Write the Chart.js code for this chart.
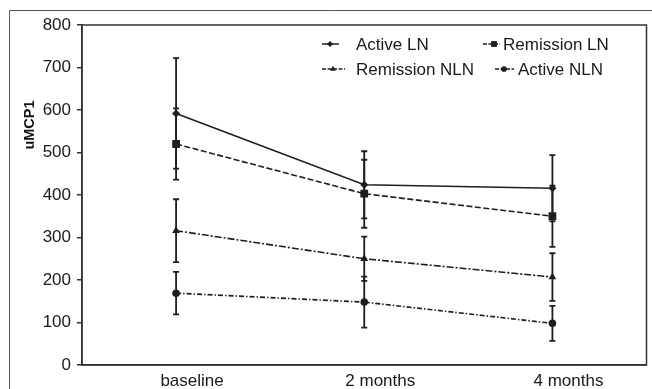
<!DOCTYPE html>
<html>
<head>
<meta charset="utf-8">
<script src="https://cdn.jsdelivr.net/npm/chart.js@4.4.1/dist/chart.umd.min.js"></script>
<style>
  html, body { margin: 0; padding: 0; background: #fff; }
  #wrap { width: 652px; height: 389px; position: relative; }
</style>
</head>
<body>
<div id="wrap"><canvas id="c" width="652" height="389"></canvas></div>
<script>
const categories = ['baseline', '2 months', '4 months'];
const yTicks = [0, 100, 200, 300, 400, 500, 600, 700, 800];
const yTitle = 'uMCP1';

const activeLN = [592, 424, 416];
const activeLNErr = [130, 79, 78];
const remissionLN = [520, 403, 350];
const remissionLNErr = [84, 80, 72];
const remissionNLN = [316, 250, 207];
const remissionNLNErr = [74, 52, 56];
const activeNLN = [169, 148, 98];
const activeNLNErr = [50, 60, 41];

const seriesNames = ['Active LN', 'Remission LN', 'Remission NLN', 'Active NLN'];

const INK = '#1e1e1e';
const TXT = '#1a1a1a';
const FONT = '"Liberation Sans", Arial, Helvetica, sans-serif';

const dashes = [[], [6, 2.5], [7, 2, 2, 2], [5, 2, 1.5, 2]];
const styles = ['rectRot', 'rect', 'triangle', 'circle'];
const radii = [4, 5.5, 4.5, 3.8];

function ds(i, data, err) {
  return {
    label: seriesNames[i],
    data: data,
    errors: err,
    borderColor: INK,
    backgroundColor: INK,
    borderWidth: 1.6,
    borderDash: dashes[i],
    pointStyle: styles[i],
    pointRadius: radii[i],
    pointBorderWidth: 0,
    pointBackgroundColor: INK,
    tension: 0,
    fill: false
  };
}

const errorBars = {
  id: 'errorBars',
  beforeDatasetsDraw(chart) {
    const ctx = chart.ctx;
    const ys = chart.scales.y;
    ctx.save();
    ctx.strokeStyle = INK;
    ctx.lineWidth = 1.8;
    chart.data.datasets.forEach((d, i) => {
      const meta = chart.getDatasetMeta(i);
      meta.data.forEach((pt, j) => {
        const v = d.data[j], e = d.errors[j];
        const yt = ys.getPixelForValue(v + e);
        const yb = ys.getPixelForValue(v - e);
        const x = pt.x;
        ctx.beginPath();
        ctx.moveTo(x, yt); ctx.lineTo(x, yb);
        ctx.moveTo(x - 3, yt); ctx.lineTo(x + 3, yt);
        ctx.moveTo(x - 3, yb); ctx.lineTo(x + 3, yb);
        ctx.stroke();
      });
    });
    ctx.restore();
  }
};

const frame = {
  id: 'frame',
  afterDraw(chart) {
    const ctx = chart.ctx;
    const a = chart.chartArea;
    ctx.save();
    // outer frame
    ctx.strokeStyle = '#555';
    ctx.lineWidth = 1;
    ctx.beginPath();
    ctx.moveTo(9.5, 389); ctx.lineTo(9.5, 10.5); ctx.lineTo(652, 10.5);
    ctx.stroke();
    // plot border
    ctx.strokeStyle = '#333';
    ctx.lineWidth = 1.5;
    ctx.strokeRect(a.left, a.top, a.right - a.left, a.bottom - a.top);
    // y axis title
    ctx.save();
    ctx.translate(30, 125);
    ctx.rotate(-Math.PI / 2);
    ctx.font = 'bold 14.5px ' + FONT;
    ctx.fillStyle = '#111';
    ctx.textAlign = 'center';
    ctx.textBaseline = 'middle';
    ctx.fillText(yTitle, 0, 0);
    ctx.restore();
    // legend
    const items = [
      {i: 0, x1: 322, x2: 339, mx: 330, tx: 356, y: 44},
      {i: 1, x1: 483, x2: 500, mx: 494, tx: 503, y: 44},
      {i: 2, x1: 322, x2: 345, mx: 333, tx: 356, y: 69},
      {i: 3, x1: 495, x2: 514, mx: 504, tx: 518, y: 69}
    ];
    ctx.font = '17px ' + FONT;
    ctx.textBaseline = 'middle';
    ctx.textAlign = 'left';
    items.forEach(it => {
      ctx.strokeStyle = INK;
      ctx.lineWidth = 1.5;
      ctx.setLineDash(dashes[it.i].length ? [4, 1.5] : []);
      ctx.beginPath();
      ctx.moveTo(it.x1, it.y); ctx.lineTo(it.x2, it.y);
      ctx.stroke();
      ctx.setLineDash([]);
      ctx.fillStyle = INK;
      Chart.helpers.drawPoint(ctx, {pointStyle: styles[it.i], radius: radii[it.i] * 0.75, borderWidth: 0}, it.mx, it.y);
      ctx.fillStyle = TXT;
      ctx.fillText(seriesNames[it.i], it.tx, it.y + 1);
    });
    ctx.restore();
  }
};

new Chart(document.getElementById('c'), {
  type: 'line',
  data: {
    labels: categories,
    datasets: [
      ds(0, activeLN, activeLNErr),
      ds(1, remissionLN, remissionLNErr),
      ds(2, remissionNLN, remissionNLNErr),
      ds(3, activeNLN, activeNLNErr)
    ]
  },
  options: {
    responsive: false,
    animation: false,
    devicePixelRatio: 1,
    layout: { padding: { top: 25, right: 4, bottom: 0, left: 10 } },
    plugins: { legend: { display: false }, tooltip: { enabled: false } },
    scales: {
      x: {
        type: 'category',
        offset: true,
        grid: { display: false, drawTicks: false },
        border: { display: true, color: '#333', width: 1.5 },
        ticks: { color: TXT, font: { family: FONT, size: 17 }, padding: 6, labelOffset: 16, maxRotation: 0 },
        afterFit(s) { s.height = 24; }
      },
      y: {
        min: 0, max: 800,
        afterBuildTicks(s) { s.ticks = yTicks.map(v => ({value: v})); },
        grid: { display: true, drawOnChartArea: false, drawTicks: true, tickLength: 5, color: '#333', lineWidth: 1.5 },
        border: { display: true, color: '#333', width: 1.5 },
        ticks: { color: TXT, font: { family: FONT, size: 17 }, padding: 6 },
        title: { display: false },
        afterFit(s) { s.width = 72; }
      }
    }
  },
  plugins: [errorBars, frame]
});
</script>
</body>
</html>
